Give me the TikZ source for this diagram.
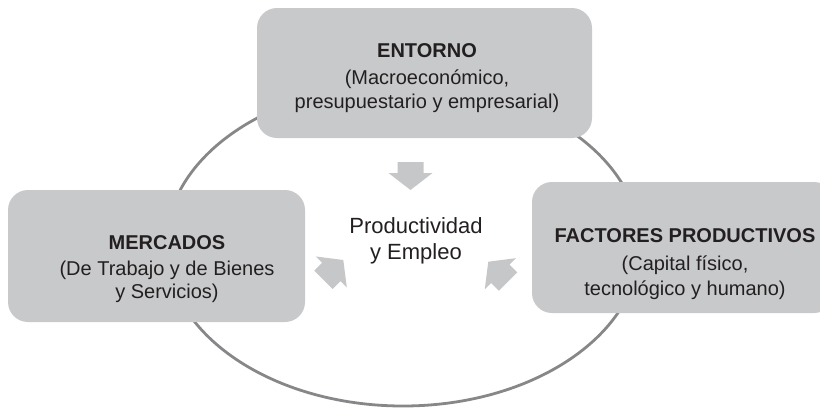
\documentclass[tikz,border=0pt]{standalone}
\usepackage{fontspec}
\setmainfont{Liberation Sans}
\definecolor{boxgray}{RGB}{200,201,203}
\definecolor{arrowgray}{RGB}{198,199,201}
\definecolor{ringgray}{RGB}{135,135,137}
\definecolor{ink}{RGB}{35,31,32}
\tikzset{
  box/.style={draw=none, fill=boxgray, rounded corners=20pt, inner sep=0pt},
  boxtxt/.style={text=ink, font=\fontsize{20}{24}\selectfont, anchor=base, inner sep=0pt},
  centxt/.style={text=ink, font=\fontsize{22}{26}\selectfont, anchor=base, inner sep=0pt},
  ring/.style={draw=ringgray, line width=2.8pt},
  blockarrow/.pic={\fill[arrowgray] (0,0) -- (-17,22) -- (-17,13) -- (-28,13) -- (-28,-13) -- (-17,-13) -- (-17,-22) -- cycle;}
}
\begin{document}
\begin{tikzpicture}[x=1pt,y=-1pt]
\useasboundingbox (0,0) rectangle (820,408);
% cycle ring
\draw[ring] (403,245) ellipse [x radius=237pt, y radius=161pt];
% boxes
\node[box, minimum width=335pt, minimum height=130pt] (entorno) at (424.5,73) {};
\node[box, minimum width=297pt, minimum height=132pt] (mercados) at (156.5,256) {};
\node[box, minimum width=302pt, minimum height=131pt] (factores) at (683,247.5) {};
% texts
\node[boxtxt] (ent1) at (427,57) {\bfseries ENTORNO};
\node[boxtxt] (ent2) at (427,84) {(Macroeconómico,};
\node[boxtxt] (ent3) at (427,108) {presupuestario y empresarial)};
\node[boxtxt] (mer1) at (167,249) {\bfseries MERCADOS};
\node[boxtxt] (mer2) at (167,275) {(De Trabajo y de Bienes};
\node[boxtxt] (mer3) at (167,298) {y Servicios)};
\node[boxtxt] (fac1) at (685,242) {\bfseries FACTORES PRODUCTIVOS};
\node[boxtxt] (fac2) at (685,270) {(Capital físico,};
\node[boxtxt] (fac3) at (685,295) {tecnológico y humano)};
\node[centxt] (prod1) at (416,233) {Productividad};
\node[centxt] (prod2) at (416,259) {y Empleo};
% arrows
\pic[rotate=-90] at (410.5,190) {blockarrow};
\pic[rotate=45] at (343.3,260) {blockarrow};
\pic[rotate=135] at (488.3,261.7) {blockarrow};
\end{tikzpicture}
\end{document}
